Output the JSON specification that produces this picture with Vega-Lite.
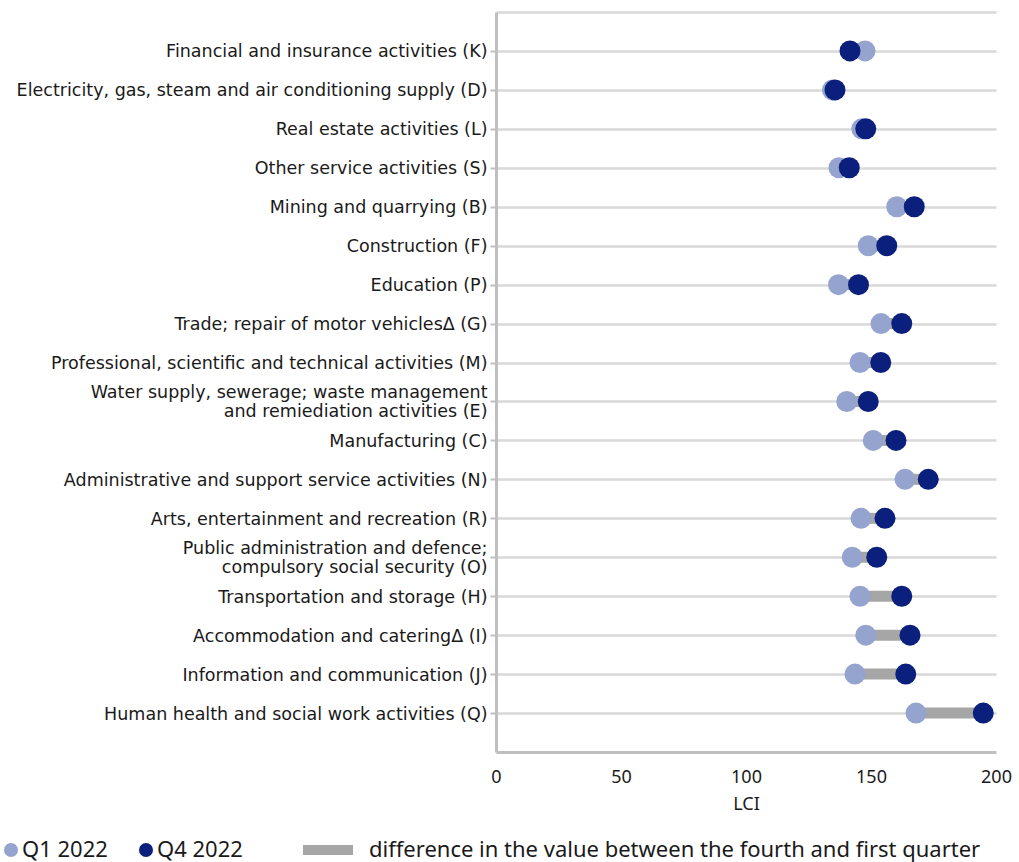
{
  "$schema": "https://vega.github.io/schema/vega-lite/v6.json",
  "width": 500,
  "height": 740,
  "autosize": {"type": "none"},
  "padding": {"left": 496, "top": 12, "right": 23, "bottom": 110},
  "config": {
    "font": "Noto Sans",
    "view": {"stroke": null},
    "axis": {
      "domainColor": "#bfbfbf",
      "domainWidth": 3,
      "tickColor": "#bfbfbf",
      "tickWidth": 2,
      "gridColor": "#d9d9d9",
      "gridWidth": 2.5,
      "labelColor": "#1a1a1a",
      "titleColor": "#1a1a1a"
    }
  },
  "data": {
    "values": [
      {"category": "Financial and insurance activities (K)", "Q1 2022": 147.6, "Q4 2022": 141.6},
      {"category": "Electricity, gas, steam and air conditioning supply (D)", "Q1 2022": 134.6, "Q4 2022": 135.6},
      {"category": "Real estate activities (L)", "Q1 2022": 146.3, "Q4 2022": 147.9},
      {"category": "Other service activities (S)", "Q1 2022": 137.2, "Q4 2022": 141.3},
      {"category": "Mining and quarrying (B)", "Q1 2022": 160.3, "Q4 2022": 167.3},
      {"category": "Construction (F)", "Q1 2022": 148.9, "Q4 2022": 156.3},
      {"category": "Education (P)", "Q1 2022": 137.0, "Q4 2022": 145.0},
      {"category": "Trade; repair of motor vehiclesΔ (G)", "Q1 2022": 154.0, "Q4 2022": 162.3},
      {"category": "Professional, scientific and technical activities (M)", "Q1 2022": 145.6, "Q4 2022": 153.9},
      {"category": "Water supply, sewerage; waste management|and remiediation activities (E)", "Q1 2022": 140.3, "Q4 2022": 148.9},
      {"category": "Manufacturing (C)", "Q1 2022": 150.9, "Q4 2022": 160.0},
      {"category": "Administrative and support service activities (N)", "Q1 2022": 163.6, "Q4 2022": 172.9},
      {"category": "Arts, entertainment and recreation (R)", "Q1 2022": 146.0, "Q4 2022": 155.6},
      {"category": "Public administration and defence;|compulsory social security (O)", "Q1 2022": 142.5, "Q4 2022": 152.3},
      {"category": "Transportation and storage (H)", "Q1 2022": 145.6, "Q4 2022": 162.3},
      {"category": "Accommodation and cateringΔ (I)", "Q1 2022": 147.9, "Q4 2022": 165.6},
      {"category": "Information and communication (J)", "Q1 2022": 143.6, "Q4 2022": 163.9},
      {"category": "Human health and social work activities (Q)", "Q1 2022": 168.0, "Q4 2022": 194.9}
    ]
  },
  "resolve": {"axis": {"x": "independent"}},
  "layer": [
    {
      "mark": {"type": "rule", "strokeWidth": 11, "color": "#a6a6a6"},
      "encoding": {
        "y": {
          "field": "category", "type": "nominal", "sort": null,
          "scale": {"type": "point", "padding": 1},
          "axis": {
            "title": null, "labelFont": "DejaVu Sans", "labelFontSize": 17.5, "labelPadding": 3, "tickSize": 6,
            "labelExpr": "split(datum.label, '|')", "labelLineHeight": 19, "labelLimit": 0,
            "labelOffset": {"condition": {"test": "indexof(datum.value, '|') >= 0", "value": -9}, "value": 1},
            "grid": true
          }
        },
        "x": {
          "field": "Q1 2022", "type": "quantitative",
          "scale": {"domain": [0, 200], "nice": false},
          "axis": {
            "values": [0, 50, 100, 150, 200], "ticks": false, "tickSize": 0, "labelFontSize": 18,
            "labelPadding": 16, "labelFlush": false, "title": "LCI", "titleFontSize": 18,
            "titleFontWeight": "normal", "titlePadding": 9, "grid": false
          }
        },
        "x2": {"field": "Q4 2022"}
      }
    },
    {
      "transform": [{"fold": ["Q1 2022", "Q4 2022"], "as": ["series", "value"]}],
      "mark": {"type": "point", "filled": true, "opacity": 1, "size": 441},
      "encoding": {
        "y": {"field": "category", "type": "nominal", "sort": null},
        "x": {
          "field": "value", "type": "quantitative",
          "axis": {"orient": "top", "labels": false, "ticks": false, "title": null, "domainColor": "#d9d9d9", "domainWidth": 2.5, "grid": false}
        },
        "color": {
          "field": "series", "type": "nominal",
          "scale": {
            "domain": ["Q1 2022", "Q4 2022", "difference in the value between the fourth and first quarter"],
            "range": ["#95a3cf", "#0b1f7c", "#a6a6a6"]
          },
          "legend": {
            "orient": "none", "legendX": -496, "legendY": 827, "direction": "horizontal",
            "title": null, "symbolSize": 196, "labelFontSize": 22, "labelOffset": 0, "padding": 0,
            "columnPadding": 27, "symbolOpacity": 1, "labelLimit": 0, "labelColor": "#1a1a1a",
            "encode": {
              "labels": {
                "update": {
                  "dx": {"signal": "datum.label === 'difference in the value between the fourth and first quarter' ? 77 : 0"}
                }
              }
            }
          }
        },
        "shape": {
          "field": "series", "type": "nominal",
          "scale": {
            "domain": ["Q1 2022", "Q4 2022", "difference in the value between the fourth and first quarter"],
            "range": ["circle", "circle", "M3.14,-0.7H10.29V0.7H3.14Z"]
          }
        }
      }
    }
  ]
}
